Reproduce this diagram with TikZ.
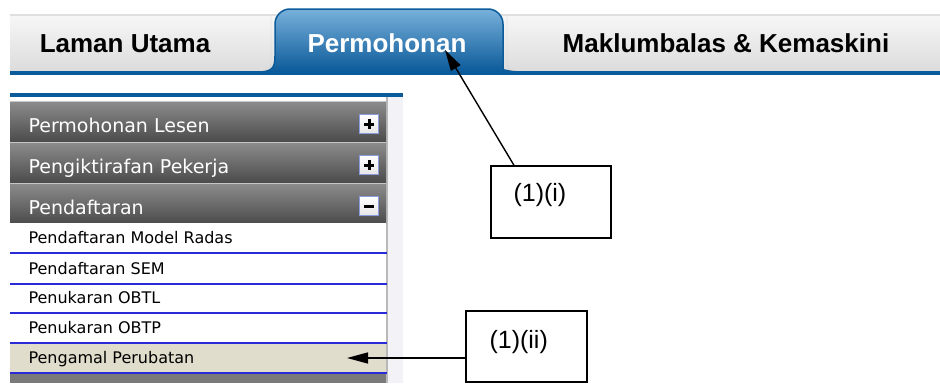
\documentclass[tikz,border=0pt]{standalone}
\usepackage{fontspec}
\setmainfont{Liberation Sans}
\newfontfamily\menufont{DejaVu Sans}
\usetikzlibrary{
    arrows.meta,
    positioning
}

\definecolor{tabblue}{HTML}{0B5A9A}
\definecolor{tablight}{HTML}{78B0DA}
\definecolor{rowline}{HTML}{2A2AD8}
\definecolor{rowpick}{HTML}{E0DDCC}
\definecolor{panelside}{HTML}{F2F2F7}
\definecolor{btnedge}{HTML}{8A9BE0}

\tikzset{
    tabtext/.style={font=\fontsize{26}{30}\selectfont\bfseries},
    headtext/.style={anchor=base west, text=white, font=\menufont\fontsize{19}{22}\selectfont},
    itemtext/.style={anchor=base west, text=black, font=\menufont\fontsize{16}{19}\selectfont},
    togglebox/.style={draw=btnedge, line width=1.2pt, top color=white, bottom color=gray!20, minimum size=19pt, inner sep=0pt},
    notebox/.style={draw, line width=1.4pt, inner sep=0pt},
    notetext/.style={anchor=west, font=\fontsize{25}{29}\selectfont},
    pointer/.style={line width=1.4pt, -{Triangle[length=21pt,width=11pt]}}
}

\begin{document}
\begin{tikzpicture}[x=1pt, y=-1pt]
    \useasboundingbox (0,0) rectangle (940,383);

    % tab bar
    \shade[top color=gray!6, bottom color=gray!28] (10,14) rectangle (940,72);
    \draw[gray!25, line width=2pt] (10,15) -- (940,15);
    \draw[gray!40] (271,16) -- (271,62) .. controls (271,69) and (268,71) .. (262,71);
    \draw[gray!40] (507,16) -- (507,62) .. controls (507,69) and (510,71) .. (516,71);
    \fill[tabblue] (10,71) rectangle (940,75);
    \shadedraw[top color=tablight, bottom color=tabblue, draw=tabblue, line width=1.5pt]
        (258,72) .. controls (272,72) and (275,68) .. (275,56)
        [rounded corners=15pt] -- (275,9) -- (503,9) -- (503,56)
        [sharp corners] .. controls (503,68) and (506,72) .. (520,72) -- cycle;
    \node[tabtext] (home) at (125,44) {Laman Utama};
    \node[tabtext, text=white] (apply) at (387,43) {Permohonan};
    \node[tabtext] (feedback) at (726,43) {Maklumbalas \& Kemaskini};

    % side menu
    \fill[tabblue] (10,93) rectangle (403,97);
    \fill[panelside] (387,97) rectangle (403,383);
    \draw[gray!55, line width=1.5pt] (387,97) -- (387,383);
    \foreach \name/\y/\txt in {lesen/101/Permohonan Lesen, pekerja/142/Pengiktirafan Pekerja, daftar/183/Pendaftaran} {
        \shade[top color=black!45, bottom color=black!70] (10,\y) rectangle (386,\y+40);
        \draw[gray!45] (10,\y) -- (386,\y);
        \node[headtext] (\name) at (25,\y+31) {\txt};
        \node[togglebox] (\name-btn) at (369,\y+23) {};
        \draw[line width=3pt] ([xshift=-5pt]\name-btn.center) -- ([xshift=5pt]\name-btn.center);
    }
    \draw[line width=3pt] ([yshift=-5pt]lesen-btn.center) -- ([yshift=5pt]lesen-btn.center);
    \draw[line width=3pt] ([yshift=-5pt]pekerja-btn.center) -- ([yshift=5pt]pekerja-btn.center);

    \fill[white] (10,223) rectangle (386,343);
    \fill[rowpick] (10,343) rectangle (386,373);
    \fill[black!52] (10,374) rectangle (386,383);
    \foreach \name/\y/\txt in {radas/243/Pendaftaran Model Radas, sem/274/Pendaftaran SEM, obtl/303/Penukaran OBTL, obtp/333/Penukaran OBTP, pengamal/363/Pengamal Perubatan} {
        \node[itemtext] (\name) at (25,\y) {\txt};
        \draw[rowline, line width=2pt] (10,\y+10) -- (387,\y+10);
    }

    % notes
    \node[notebox, minimum width=120pt, minimum height=72pt] (note1) at (551,202) {};
    \node[notetext] (note1-text) at (510,195) {(1)(i)};
    \node[notebox, minimum width=121pt, minimum height=71pt] (note2) at (526.5,346.5) {};
    \node[notetext] (note2-text) at (486,342) {(1)(ii)};
    \coordinate (tip1) at (445,50);
    \coordinate (tip2) at (347,358);
    \draw[pointer] ([xshift=-37pt]note1.north) -- (tip1);
    \draw[pointer] (note2.west |- tip2) -- (tip2);
\end{tikzpicture}
\end{document}
